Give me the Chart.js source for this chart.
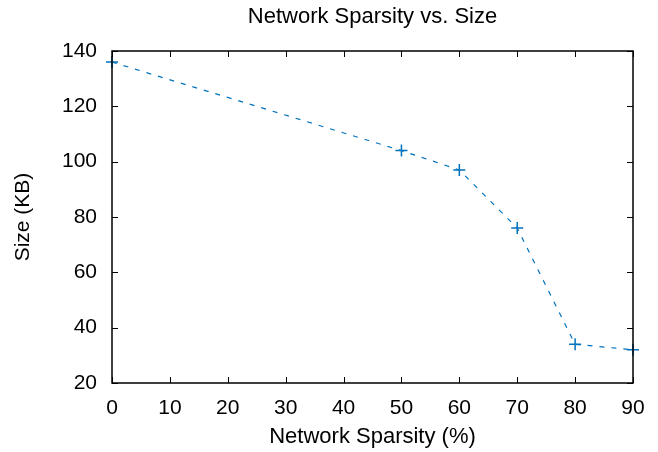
<!DOCTYPE html>
<html>
<head>
<meta charset="utf-8">
<script src="https://cdn.jsdelivr.net/npm/chart.js@4/dist/chart.umd.min.js"></script>
<style>
  html, body { margin: 0; padding: 0; background: #fff; }
  #wrap { width: 658px; height: 452px; }
</style>
</head>
<body>
<div id="wrap"><canvas id="chart" width="658" height="452"></canvas></div>
<script>
// data
const sparsity = [0, 50, 60, 70, 80, 90];
const sizeKB = [136, 104, 97, 76, 34, 32];
const xTicks = [0, 10, 20, 30, 40, 50, 60, 70, 80, 90];
const yTicks = [20, 40, 60, 80, 100, 120, 140];
const chartTitle = 'Network Sparsity vs. Size';

const blue = '#0072bd';
const font = 'Liberation Sans, Arial, Helvetica, sans-serif';

// gnuplot style: closed box with inward ticks on all sides, title over the plot area
const boxTicks = {
    id: 'boxTicks',
    afterDraw(chart) {
        const { ctx, chartArea: a, scales } = chart;
        ctx.save();
        ctx.strokeStyle = '#000';
        ctx.lineWidth = 1;
        ctx.beginPath();
        scales.x.ticks.forEach(t => {
            const px = Math.round(scales.x.getPixelForValue(t.value)) + 0.5;
            ctx.moveTo(px, a.bottom); ctx.lineTo(px, a.bottom - 6);
            ctx.moveTo(px, a.top); ctx.lineTo(px, a.top + 6);
        });
        scales.y.ticks.forEach(t => {
            const py = Math.round(scales.y.getPixelForValue(t.value)) + 0.5;
            ctx.moveTo(a.left, py); ctx.lineTo(a.left + 6, py);
            ctx.moveTo(a.right, py); ctx.lineTo(a.right - 6, py);
        });
        ctx.stroke();
        ctx.lineWidth = 1.5;
        ctx.strokeRect(a.left, a.top, a.right - a.left, a.bottom - a.top);

        ctx.fillStyle = '#000';
        ctx.font = '22px ' + font;
        ctx.textAlign = 'center';
        ctx.textBaseline = 'middle';
        ctx.fillText(chartTitle, (a.left + a.right) / 2, 16.5);
        ctx.restore();
    }
};

new Chart(document.getElementById('chart'), {
    type: 'line',
    data: {
        datasets: [{
            data: sparsity.map((x, i) => ({ x: x, y: sizeKB[i] })),
            borderColor: blue,
            backgroundColor: blue,
            borderWidth: 1.2,
            borderDash: [5, 7],
            pointStyle: 'cross',
            pointRadius: 6,
            pointBorderWidth: 1.5,
            pointBorderColor: blue,
            tension: 0,
            fill: false,
            clip: false
        }]
    },
    options: {
        responsive: false,
        animation: false,
        layout: { padding: { left: 0, right: 25, top: 51, bottom: 0 } },
        plugins: {
            legend: { display: false },
            tooltip: { enabled: false },
            title: { display: false }
        },
        scales: {
            x: {
                type: 'linear',
                min: 0,
                max: 90,
                afterBuildTicks: s => { s.ticks = xTicks.map(v => ({ value: v })); },
                afterFit: s => { s.height = 69; },
                grid: { display: false, drawTicks: false },
                border: { display: false },
                ticks: { color: '#000', padding: 12.4, maxRotation: 0, font: { family: font, size: 21 } },
                title: {
                    display: true,
                    text: 'Network Sparsity (%)',
                    color: '#000',
                    font: { family: font, size: 22 },
                    padding: { top: 2, bottom: 2 }
                }
            },
            y: {
                type: 'linear',
                min: 20,
                max: 140,
                afterBuildTicks: s => { s.ticks = yTicks.map(v => ({ value: v })); },
                afterFit: s => { s.width = 112; },
                grid: { display: false, drawTicks: false },
                border: { display: false },
                ticks: { color: '#000', padding: 15, font: { family: font, size: 21 } },
                title: {
                    display: true,
                    text: 'Size (KB)',
                    color: '#000',
                    font: { family: font, size: 21 },
                    padding: { top: 11, bottom: 11 }
                }
            }
        }
    },
    plugins: [boxTicks]
});
</script>
</body>
</html>
